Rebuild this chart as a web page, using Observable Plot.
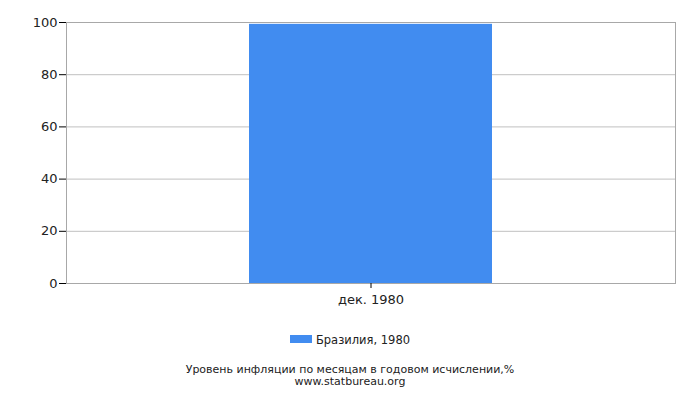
<!DOCTYPE html>
<html>
<head>
<meta charset="utf-8">
<script src="https://cdn.jsdelivr.net/npm/d3@7"></script>
<script src="https://cdn.jsdelivr.net/npm/@observablehq/plot@0.6"></script>
<style>
  html, body { margin: 0; padding: 0; background: #fff; }
  body { width: 700px; height: 400px; font-family: "DejaVu Sans", sans-serif; color: #222; }
  #legend { position: absolute; top: 333px; left: 0; width: 700px; text-align: center; font-size: 11.5px; }
  #legend .sw { display: inline-block; width: 22px; height: 8px; background: #418CF0; vertical-align: middle; margin-right: 4px; position: relative; top: -2px; }
  #caption { position: absolute; top: 364px; left: 0; width: 700px; text-align: center; font-size: 11px; line-height: 12px; }
</style>
</head>
<body>
<div id="chart"></div>
<div id="legend"><span class="sw"></span>Бразилия, 1980</div>
<div id="caption">Уровень инфляции по месяцам в годовом исчислении,%<br>www.statbureau.org</div>
<script>
const categories = ["дек. 1980"];
const values = [99.3];
const yTicks = [0, 20, 40, 60, 80, 100];
const seriesName = "Бразилия, 1980";

const data = categories.map((c, i) => ({category: c, value: values[i], series: seriesName}));

const chart = Plot.plot({
  width: 700,
  height: 315,
  marginTop: 22,
  marginLeft: 66,
  marginRight: 25,
  marginBottom: 32,
  style: {fontFamily: "DejaVu Sans, sans-serif", fontSize: "13px", color: "#222", background: "#fff"},
  x: {domain: categories, padding: 0.4286, label: null},
  y: {domain: [0, 100], label: null},
  marks: [
    Plot.ruleY(yTicks.slice(1), {stroke: "#c0c0c0", strokeOpacity: 1}),
    Plot.barY(data, {x: "category", y: "value", fill: "#418CF0"}),
    Plot.frame({stroke: "#a8a8a8", strokeOpacity: 1}),
    Plot.axisY({ticks: yTicks, tickSize: 7, tickPadding: 2, stroke: "#000", fontSize: 13}),
    Plot.axisX({tickSize: 5, tickPadding: 6, stroke: "#000", fontSize: 13})
  ]
});
document.getElementById("chart").appendChild(chart);
</script>
</body>
</html>
